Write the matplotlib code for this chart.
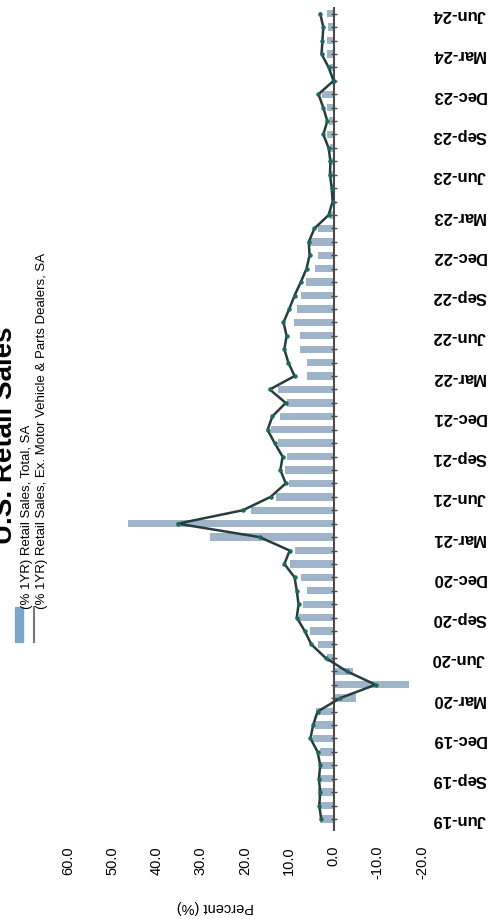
import matplotlib
matplotlib.use("Agg")
import matplotlib.pyplot as plt
from matplotlib.patches import Rectangle
from matplotlib.lines import Line2D
import pandas as pd

plt.rcParams['font.family'] = ['Liberation Sans', 'DejaVu Sans']

# monthly data, Jun-19 .. Jun-24
months = list(pd.date_range("2019-06-01", "2024-06-01", freq="MS"))

# (% 1YR) Retail Sales, Total, SA  (bars)
total = [3.0, 3.4, 3.6, 3.5, 3.0, 3.0, 4.6, 4.2, 4.0, -5.0,
         -17.0, -4.5, 1.5, 3.5, 5.2, 7.7, 6.8, 5.9, 7.4, 9.9,
         8.6, 27.8, 46.5, 18.7, 13.0, 10.0, 11.0, 10.4, 12.6, 14.2,
         12.0, 10.6, 12.6, 5.9, 6.1, 7.6, 7.6, 9.0, 8.3, 7.4,
         6.3, 4.1, 3.6, 5.2, 3.6, 0.8, 0.3, 0.5, 0.6, 0.8,
         0.9, 1.5, 1.0, 1.5, 2.5, 0.3, 0.8, 1.5, 1.5, 1.2, 1.5]

# (% 1YR) Retail Sales, Ex. Motor Vehicle & Parts Dealers, SA  (line)
ex_auto = [2.8, 3.2, 3.0, 3.3, 3.0, 3.6, 5.2, 4.6, 3.6, -1.5,
           -9.5, -3.0, 1.8, 5.0, 6.5, 8.3, 7.9, 8.3, 8.8, 11.1,
           9.9, 16.7, 35.2, 20.5, 14.2, 10.8, 12.0, 11.5, 13.3, 14.9,
           13.8, 10.8, 14.4, 8.8, 10.2, 11.1, 10.6, 11.3, 10.0, 8.8,
           7.4, 6.1, 5.4, 5.6, 4.3, 1.1, 0.2, 0.4, 0.8, 0.7,
           1.1, 2.3, 1.4, 2.3, 3.4, 0.0, 1.1, 2.7, 2.5, 2.3, 3.0]

value_ticks = [60, 50, 40, 30, 20, 10, 0, -10, -20]

pos = list(range(len(months)))
date_ticks = pos[::3]
date_labels = [m.strftime("%b-%y") for m in months[::3]]

fig = plt.figure(figsize=(4.9, 9.2), dpi=100)
# the chart is laid out turned a quarter turn: time runs upward, percent runs leftward
ax = fig.add_axes([68 / 490, 88 / 920, 354 / 490, 824 / 920])

ax.barh(pos, total, height=0.55, color="#a0b4c9", zorder=2)
ax.axvline(0, color="#4a4a4a", lw=1.5, zorder=3)
ax.plot([0] * len(pos), pos, ls="none", marker="_", ms=5, mew=1,
        color="#4a4a4a", zorder=3)
ax.plot(ex_auto, pos, color="#263d3d", lw=1.8, zorder=4,
        marker="o", ms=2.2, mfc="#1b6a5c", mec="#1b6a5c")

ax.set_xlim(60, -20)
ax.set_ylim(-0.9, 60.5)

ax.set_xticks(value_ticks)
ax.set_xticklabels(["%.1f" % v for v in value_ticks], rotation=90,
                   fontsize=10.5, va="top")
ax.tick_params(axis="x", length=0, pad=10)

ax.yaxis.tick_right()
ax.set_yticks(date_ticks)
ax.set_yticklabels(date_labels, rotation=180, fontsize=12, fontweight="bold",
                   ha="left", va="center")
ax.tick_params(axis="y", length=0, pad=7)

for s in ax.spines.values():
    s.set_visible(False)

fig.text(215 / 490, 1 - 907 / 920, "Percent (%)", rotation=180,
         ha="center", va="center", fontsize=10.5)

# title (partly cut at the left edge, as in the source)
fig.text(12 / 490, 1 - 435 / 920, "U.S. Retail Sales", rotation=90,
         rotation_mode="anchor", ha="center", va="baseline",
         fontsize=20, fontweight="bold")

# legend drawn by hand, turned with the chart
fig.add_artist(Rectangle((15 / 490, 1 - 643 / 920), 8 / 490, 35 / 920,
                         transform=fig.transFigure, color="#7fa6c8"))
fig.add_artist(Line2D([34 / 490, 34 / 490], [1 - 643 / 920, 1 - 608 / 920],
                      transform=fig.transFigure, color="#777777", lw=1.5))
fig.text(30 / 490, 1 - 609 / 920, "(% 1YR) Retail Sales, Total, SA",
         rotation=90, rotation_mode="anchor", ha="left", va="baseline",
         fontsize=9.5)
fig.text(45 / 490, 1 - 609 / 920,
         "(% 1YR) Retail Sales, Ex. Motor Vehicle & Parts Dealers, SA",
         rotation=90, rotation_mode="anchor", ha="left", va="baseline",
         fontsize=9.5)

fig.savefig("out.png", dpi=100)
